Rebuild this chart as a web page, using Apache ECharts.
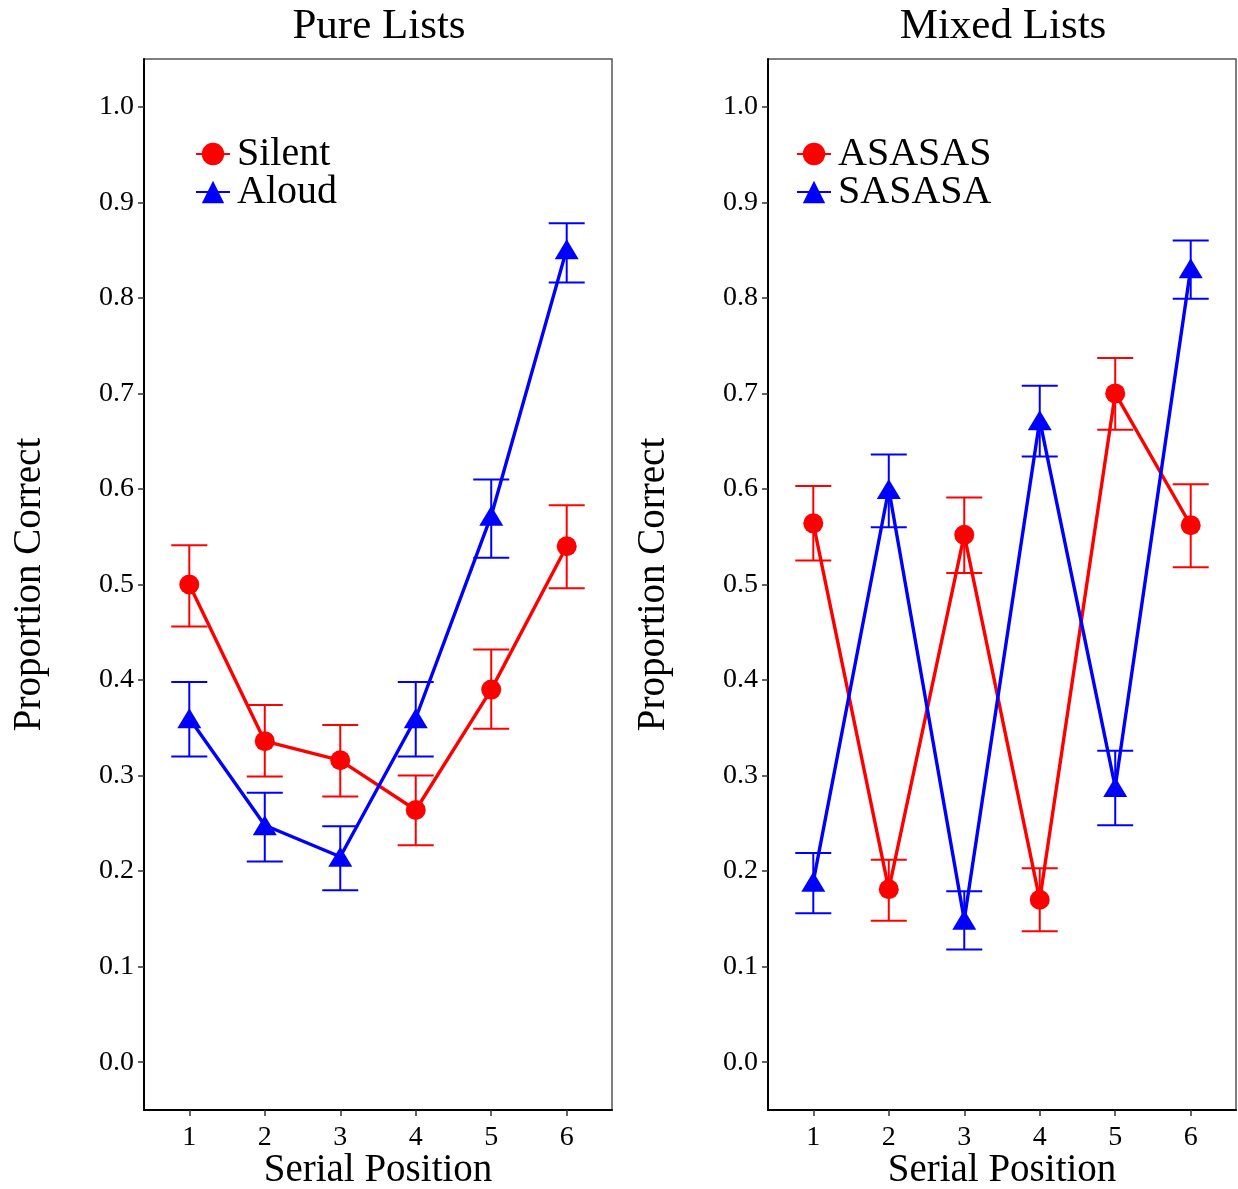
<!DOCTYPE html>
<html>
<head>
<meta charset="utf-8">
<script src="https://cdn.jsdelivr.net/npm/echarts@6/dist/echarts.min.js"></script>
<style>html,body{margin:0;padding:0;background:#fff}#c{width:1238px;height:1189px}</style>
</head>
<body>
<div id="c"></div>
<script>
const positions = [1, 2, 3, 4, 5, 6];
const yTicks = [0, 0.1, 0.2, 0.3, 0.4, 0.5, 0.6, 0.7, 0.8, 0.9, 1.0];
const panelTitles = ['Pure Lists', 'Mixed Lists'];

// Pure lists
const silent      = [0.500, 0.336, 0.316, 0.264, 0.390, 0.540];
const silentLow   = [0.456, 0.299, 0.278, 0.227, 0.349, 0.496];
const silentHigh  = [0.541, 0.374, 0.353, 0.300, 0.432, 0.583];
const aloud       = [0.360, 0.248, 0.215, 0.360, 0.572, 0.851];
const aloudLow    = [0.320, 0.210, 0.180, 0.320, 0.528, 0.816];
const aloudHigh   = [0.398, 0.282, 0.247, 0.398, 0.610, 0.878];

// Mixed lists
const asasas      = [0.564, 0.181, 0.552, 0.170, 0.700, 0.562];
const asasasLow   = [0.525, 0.148, 0.512, 0.137, 0.662, 0.518];
const asasasHigh  = [0.603, 0.212, 0.591, 0.203, 0.737, 0.605];
const sasasa      = [0.189, 0.600, 0.149, 0.672, 0.288, 0.831];
const sasasaLow   = [0.156, 0.560, 0.118, 0.634, 0.248, 0.799];
const sasasaHigh  = [0.219, 0.636, 0.179, 0.708, 0.326, 0.860];

const RED = '#ff0000', BLUE = '#0000ff';
const FONT = 'Liberation Serif';

const chart = echarts.init(document.getElementById('c'));

const grids = [
  {left: 144, top: 59, width: 468, height: 1051},
  {left: 768, top: 59, width: 468, height: 1051}
];

function xAxis(i) {
  return {
    type: 'value', gridIndex: i, min: 0.4, max: 6.6,
    name: 'Serial Position', nameLocation: 'middle', nameGap: 41, nameMoveOverlap: false,
    nameTextStyle: {fontFamily: FONT, fontSize: 39, color: '#000'},
    axisLine: {show: true, onZero: false, lineStyle: {color: '#000', width: 2}},
    axisTick: {show: true, inside: false, length: 6, customValues: positions, lineStyle: {color: '#333', width: 1.5}},
    axisLabel: {customValues: positions, margin: 14, fontFamily: FONT, fontSize: 28, color: '#000'},
    splitLine: {show: false}
  };
}
function yAxis(i) {
  return {
    type: 'value', gridIndex: i, min: -0.05, max: 1.05,
    name: 'Proportion Correct', nameLocation: 'middle', nameGap: 95, nameRotate: 90,
    nameTextStyle: {fontFamily: FONT, fontSize: 39, color: '#000'},
    axisLine: {show: true, onZero: false, lineStyle: {color: '#000', width: 2}},
    axisTick: {show: true, inside: false, length: 6, customValues: yTicks, lineStyle: {color: '#333', width: 1.5}},
    axisLabel: {customValues: yTicks, margin: 10, fontFamily: FONT, fontSize: 28, color: '#000',
      formatter: v => v.toFixed(1)},
    splitLine: {show: false}
  };
}

function errSeries(name, gi, low, high, color) {
  return {
    type: 'custom', name: name + ' (error)', xAxisIndex: gi, yAxisIndex: gi, z: 2,
    silent: true,
    data: positions.map((p, k) => [p, low[k], high[k]]),
    renderItem: function (params, api) {
      const x = api.value(0);
      const a = api.coord([x, api.value(1)]);
      const b = api.coord([x, api.value(2)]);
      const w = 18;
      const st = {stroke: color, lineWidth: 2, fill: null};
      return {type: 'group', children: [
        {type: 'line', shape: {x1: a[0], y1: a[1], x2: b[0], y2: b[1]}, style: st},
        {type: 'line', shape: {x1: a[0] - w, y1: a[1], x2: a[0] + w, y2: a[1]}, style: st},
        {type: 'line', shape: {x1: b[0] - w, y1: b[1], x2: b[0] + w, y2: b[1]}, style: st}
      ]};
    }
  };
}
function lineSeries(name, gi, vals, color, symbol) {
  return {
    type: 'line', name: name, xAxisIndex: gi, yAxisIndex: gi, z: 3,
    data: positions.map((p, k) => [p, vals[k]]),
    symbol: symbol, symbolSize: symbol === 'circle' ? 20 : [24, 20],
    showSymbol: true,
    lineStyle: {color: color, width: 3.4},
    itemStyle: {color: color},
    emphasis: {disabled: true}
  };
}

function legendFor(names, left) {
  return {
    data: names, left: left, top: 129, orient: 'vertical', itemGap: -2,
    itemWidth: 34, itemHeight: 28, selectedMode: false,
    textStyle: {fontFamily: FONT, fontSize: 40, color: '#000', padding: [0, 0, 0, 2]}
  };
}

const option = {
  animation: false,
  backgroundColor: '#fff',
  title: [
    {text: panelTitles[0], left: 374, top: 0, textAlign: 'center',
      textStyle: {fontFamily: FONT, fontSize: 43, fontWeight: 'normal', color: '#000'}},
    {text: panelTitles[1], left: 998, top: 0, textAlign: 'center',
      textStyle: {fontFamily: FONT, fontSize: 43, fontWeight: 'normal', color: '#000'}}
  ],
  grid: grids.map(g => Object.assign({show: true, borderColor: '#555', borderWidth: 1.5,
    backgroundColor: '#fff', outerBoundsMode: 'none', containLabel: false}, g)),
  xAxis: [xAxis(0), xAxis(1)],
  yAxis: [yAxis(0), yAxis(1)],
  legend: [legendFor(['Silent', 'Aloud'], 190), legendFor(['ASASAS', 'SASASA'], 791)],
  series: [
    errSeries('Silent', 0, silentLow, silentHigh, RED),
    errSeries('Aloud', 0, aloudLow, aloudHigh, BLUE),
    lineSeries('Silent', 0, silent, RED, 'circle'),
    lineSeries('Aloud', 0, aloud, BLUE, 'triangle'),
    errSeries('ASASAS', 1, asasasLow, asasasHigh, RED),
    errSeries('SASASA', 1, sasasaLow, sasasaHigh, BLUE),
    lineSeries('ASASAS', 1, asasas, RED, 'circle'),
    lineSeries('SASASA', 1, sasasa, BLUE, 'triangle')
  ]
};
chart.setOption(option);
</script>
</body>
</html>
